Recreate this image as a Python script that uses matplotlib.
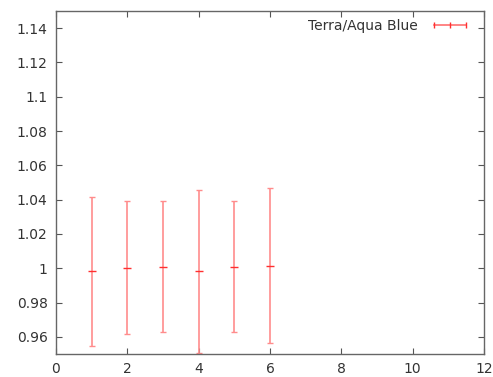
import matplotlib.pyplot as plt
from matplotlib.lines import Line2D

x = [1, 2, 3, 4, 5, 6]
y = [0.9983, 1.0004, 1.0010, 0.9983, 1.0010, 1.0015]
yerr = [0.0434, 0.0390, 0.0381, 0.0476, 0.0381, 0.0453]
label = 'Terra/Aqua Blue'

plt.rcParams['font.family'] = 'DejaVu Sans'
fig = plt.figure(figsize=(4.93, 3.77), dpi=100)
ax = fig.add_axes([56 / 493, 1 - 354 / 377, 428 / 493, 343 / 377])

ax.errorbar(x, y, yerr=yerr, fmt='_', color='#ff7070', ecolor='#ff8c8c',
            elinewidth=1.2, capsize=2.5, capthick=1.0, markersize=6,
            markeredgewidth=1.0, mec='#ff3030')

ax.set_xlim(0, 12)
ax.set_ylim(0.95, 1.15)
ax.set_xticks(range(0, 13, 2))
ax.set_yticks([0.96, 0.98, 1.0, 1.02, 1.04, 1.06, 1.08, 1.1, 1.12, 1.14])
ax.set_yticklabels(['0.96', '0.98', '1', '1.02', '1.04', '1.06', '1.08', '1.1', '1.12', '1.14'])
ax.tick_params(direction='in', top=True, right=True, length=4, width=0.8,
               colors='#555555', labelcolor='#333333', labelsize=10, pad=6)
for s in ax.spines.values():
    s.set_color('#666666')
    s.set_linewidth(1.0)

# gnuplot style key sample: horizontal bar with end caps
proxy = Line2D([], [], color='#ff7070', lw=1.2, marker='|', markersize=5,
               mec='#ff3030', mew=1.0)
ax.legend([proxy], [label], loc='upper right', frameon=False, markerfirst=False,
          fontsize=10, handlelength=2.9, borderaxespad=0.2, numpoints=3,
          bbox_to_anchor=(1 - 6 / 428, 1),
          handletextpad=0.85, labelcolor='#333333')

fig.savefig('out.png', dpi=100)
